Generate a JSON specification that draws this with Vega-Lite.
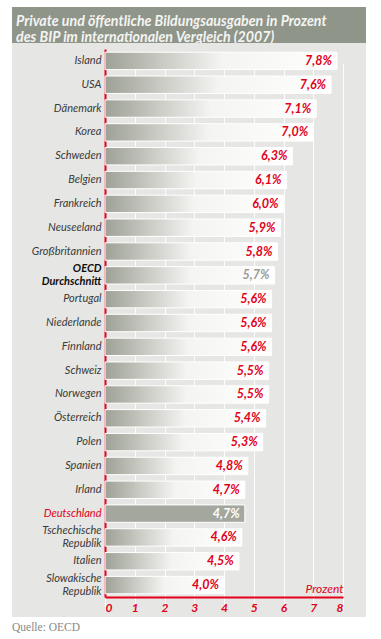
{
  "$schema": "https://vega.github.io/schema/vega-lite/v6.json",
  "background": "#ffffff",
  "padding": {"left": 12, "top": 7, "right": 15, "bottom": 0},
  "spacing": 0,
  "bounds": "flush",
  "title": {"text": "Quelle: OECD", "orient": "bottom", "anchor": "start", "font": "Liberation Serif", "fontSize": 11.5, "fontWeight": "normal", "color": "#8a8a8a", "offset": 5, "frame": "bounds"},
  "config": {"view": {"stroke": null}, "concat": {"spacing": 0}},
  "vconcat": [
    {
      "width": 354,
      "height": 36,
      "view": {"fill": "#8f9589", "stroke": null},
      "title": {
        "text": ["Private und öffentliche Bildungsausgaben in Prozent", "des BIP im internationalen Vergleich (2007)"],
        "anchor": "start", "orient": "top", "frame": "group", "offset": -49, "dx": 4,
        "baseline": "alphabetic", "lineHeight": 16,
        "font": "Lato", "fontSize": 14.2, "fontStyle": "italic", "fontWeight": "bold", "color": "#f4f4f2"
      },
      "data": {"values": [{"t": ""}]},
      "mark": {"type": "text"},
      "encoding": {"text": {"field": "t"}}
    },
    {
      "width": 354,
      "height": 574,
      "view": {"fill": "#e6e7e4", "stroke": null},
      "data": {"values": [
        {"land": "Island", "wert": 7.8, "typ": "normal"},
        {"land": "USA", "wert": 7.6, "typ": "normal"},
        {"land": "Dänemark", "wert": 7.1, "typ": "normal"},
        {"land": "Korea", "wert": 7.0, "typ": "normal"},
        {"land": "Schweden", "wert": 6.3, "typ": "normal"},
        {"land": "Belgien", "wert": 6.1, "typ": "normal"},
        {"land": "Frankreich", "wert": 6.0, "typ": "normal"},
        {"land": "Neuseeland", "wert": 5.9, "typ": "normal"},
        {"land": "Großbritannien", "wert": 5.8, "typ": "normal"},
        {"land": "OECD|Durchschnitt", "wert": 5.7, "typ": "oecd"},
        {"land": "Portugal", "wert": 5.6, "typ": "normal"},
        {"land": "Niederlande", "wert": 5.6, "typ": "normal"},
        {"land": "Finnland", "wert": 5.6, "typ": "normal"},
        {"land": "Schweiz", "wert": 5.5, "typ": "normal"},
        {"land": "Norwegen", "wert": 5.5, "typ": "normal"},
        {"land": "Österreich", "wert": 5.4, "typ": "normal"},
        {"land": "Polen", "wert": 5.3, "typ": "normal"},
        {"land": "Spanien", "wert": 4.8, "typ": "normal"},
        {"land": "Irland", "wert": 4.7, "typ": "normal"},
        {"land": "Deutschland", "wert": 4.7, "typ": "de"},
        {"land": "Tschechische|Republik", "wert": 4.6, "typ": "normal"},
        {"land": "Italien", "wert": 4.5, "typ": "normal"},
        {"land": "Slowakische|Republik", "wert": 4.0, "typ": "normal"}
      ]},
      "transform": [
        {"calculate": "replace(format(datum.wert, '.1f'), '.', ',') + '%'", "as": "label"}
      ],
      "encoding": {
        "y": {
          "field": "land", "type": "nominal", "sort": null,
          "scale": {"range": [6, 554], "paddingInner": 0.27, "paddingOuter": 0.135},
          "axis": {
            "title": null, "offset": -93, "ticks": false, "labelPadding": 4,
            "domainColor": "#e2001a", "domainWidth": 2,
            "labelExpr": "split(datum.value, '|')",
            "labelFont": "Lato", "labelFontSize": 11, "labelLineHeight": 13,
            "labelFontStyle": "italic",
            "labelOffset": {"condition": {"test": "indexof(datum.value, '|') >= 0", "value": -6.5}, "value": 0},
            "labelFontWeight": {"condition": {"test": "datum.value === 'OECD|Durchschnitt'", "value": "bold"}, "value": "normal"},
            "labelColor": {"condition": [
              {"test": "datum.value === 'Deutschland'", "value": "#e2001a"},
              {"test": "datum.value === 'OECD|Durchschnitt'", "value": "#111111"}
            ], "value": "#3a3a3a"}
          }
        },
        "x": {
          "field": "wert", "type": "quantitative",
          "scale": {"domain": [0, 8], "range": [93, 331], "nice": false, "zero": true},
          "axis": {
            "orient": "bottom", "offset": -20, "values": [0, 1, 2, 3, 4, 5, 6, 7, 8], "format": "d",
            "ticks": false, "labelPadding": 5,
            "domainColor": "#e2001a", "domainWidth": 2,
            "grid": true, "gridColor": "#ffffff", "gridWidth": 1, "gridOpacity": 0.9,
            "labelFont": "Lato", "labelFontSize": 12, "labelFontStyle": "italic", "labelFontWeight": "bold", "labelColor": "#e2001a",
            "title": "Prozent", "titleAnchor": "end", "titleAlign": "right", "titleY": -5, "titleBaseline": "alphabetic",
            "titleFont": "Lato", "titleFontSize": 12, "titleFontStyle": "italic", "titleFontWeight": "normal", "titleColor": "#e2001a"
          }
        }
      },
      "layer": [
        {
          "mark": {"type": "bar", "stroke": "#ffffff", "strokeWidth": 1},
          "encoding": {
            "color": {
              "condition": {"test": "datum.typ === 'de'", "value": "#a3a79d"},
              "value": {"gradient": "linear", "x1": 0, "x2": 1, "y1": 0, "y2": 0,
                "stops": [
                  {"offset": 0, "color": "#9ea196"},
                  {"offset": 0.25, "color": "#c9cbc4"},
                  {"offset": 0.5, "color": "#f4f4f2"},
                  {"offset": 1, "color": "#ffffff"}
                ]}
            }
          }
        },
        {
          "mark": {"type": "text", "align": "right", "baseline": "middle", "dx": -5, "font": "Lato", "fontSize": 12.5, "fontStyle": "italic", "fontWeight": "bold"},
          "encoding": {
            "text": {"field": "label"},
            "color": {"condition": [
              {"test": "datum.typ === 'de'", "value": "#ffffff"},
              {"test": "datum.typ === 'oecd'", "value": "#9a9a9a"}
            ], "value": "#e2001a"}
          }
        }
      ]
    }
  ]
}
